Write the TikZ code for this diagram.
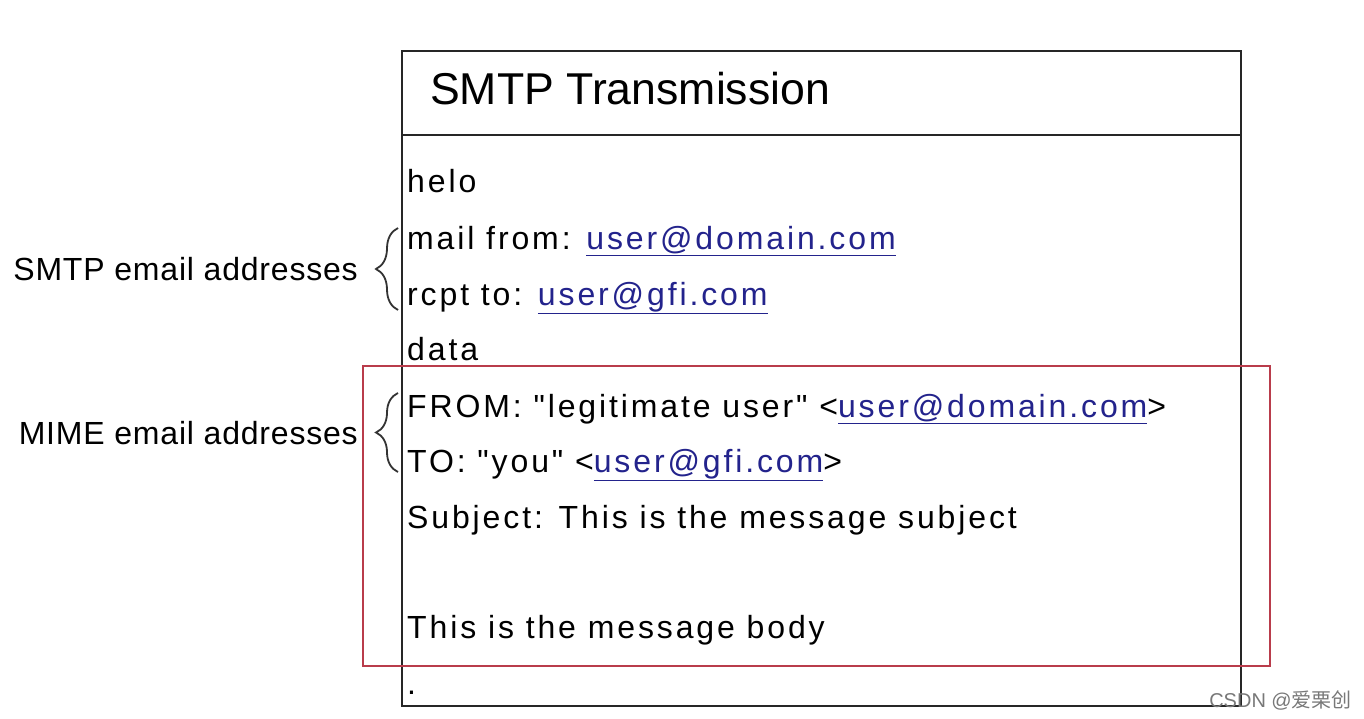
\documentclass[tikz,border=0pt]{standalone}
\usepackage{fontspec}
\setmainfont{Liberation Sans}
\newfontfamily\plainsans{Liberation Sans}
\newfontfamily\cjk{Noto Sans CJK SC}
\usetikzlibrary{decorations.pathreplacing}
\definecolor{linkblue}{RGB}{35,35,140}
\definecolor{boxred}{RGB}{185,60,75}
\definecolor{wmgray}{RGB}{120,120,120}
\newcommand{\lnk}[1]{\textcolor{linkblue}{\underline{#1}}}
\tikzset{
  body/.style={anchor=base west, inner sep=0pt, font=\plainsans\fontsize{32}{38}\selectfont\addfontfeatures{LetterSpace=9}},
  lbl/.style={anchor=base east, inner sep=0pt, font=\plainsans\fontsize{32}{38}\selectfont\addfontfeatures{LetterSpace=2.5}},
  frame/.style={draw=black!85, line width=2pt},
  redframe/.style={draw=boxred, line width=2pt},
  bracestyle/.style={draw=black!80, line width=1.8pt, decorate, decoration={brace, amplitude=22pt}}
}
\begin{document}
\begin{tikzpicture}[x=1pt,y=-1pt]
\useasboundingbox[fill=white] (0,0) rectangle (1364,719);
% main box
\draw[frame] (402,51) rectangle (1241,706);
\draw[frame] (402,135) -- (1241,135);
\node[anchor=base west, inner sep=0pt, font=\plainsans\fontsize{44.6}{50}\selectfont] (title) at (430,105) {SMTP Transmission};
% red box
\draw[redframe] (363,366) rectangle (1270,666);
% body lines
\node[body] (helo) at (407,193) {helo};
\node[body] (mail) at (407,249) {mail from: \lnk{user@domain.com}};
\node[body] (rcpt) at (407,305) {rcpt to: \lnk{user@gfi.com}};
\node[body] (data) at (407,360) {data};
\node[body] (from) at (407,417) {FROM: "legitimate user" <\lnk{user@domain.com}>};
\node[body] (to) at (407,472) {TO: "you" <\lnk{user@gfi.com}>};
\node[body] (subj) at (407,528) {Subject: This is the message subject};
\node[body] (msg) at (407,638) {This is the message body};
\node[body] (dot) at (407,694) {.};
% braces
\coordinate (b1s) at (398,310);
\coordinate (b1e) at (398,228);
\coordinate (b2s) at (398,472);
\coordinate (b2e) at (398,393);
\draw[bracestyle] (b1s) -- (b1e);
\draw[bracestyle] (b2s) -- (b2e);
\node[lbl] (smtp) at (358,280) {SMTP email addresses};
\node[lbl] (mime) at (358,444) {MIME email addresses};
% watermark
\node[anchor=base east, inner sep=0pt, text=wmgray, font=\plainsans\fontsize{20}{24}\selectfont] (wm) at (1352,707) {CSDN @{\cjk 爱栗创}};
\end{tikzpicture}
\end{document}
